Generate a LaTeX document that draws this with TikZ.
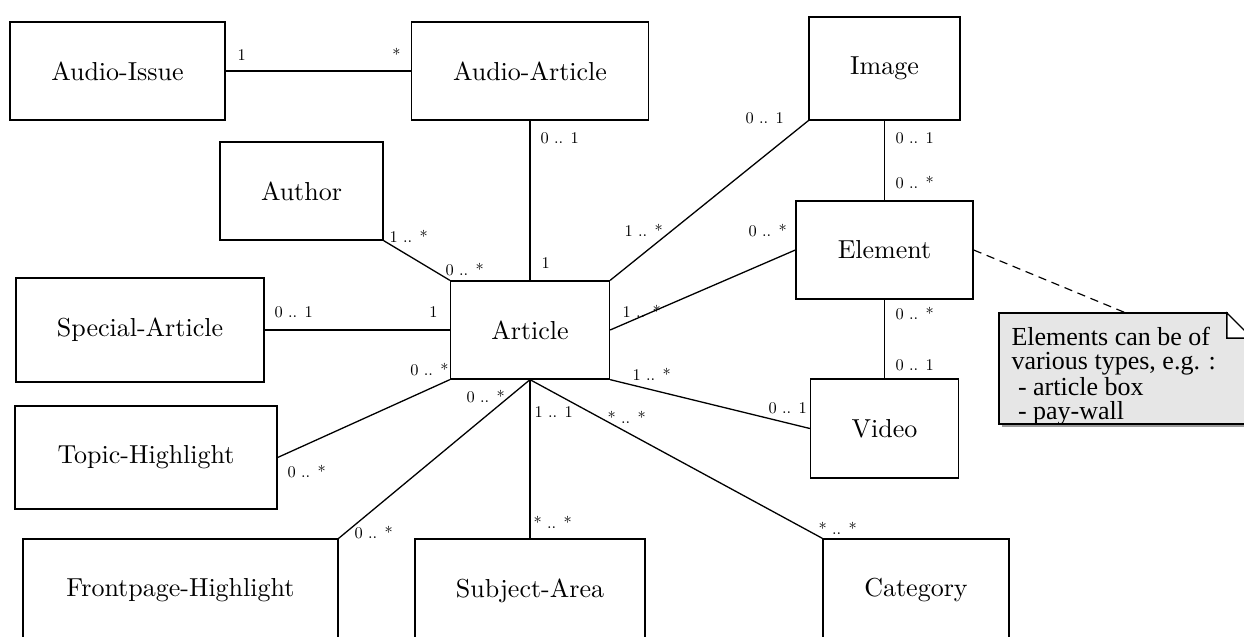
\documentclass[tikz,border=0pt]{standalone}
\usepackage{fontspec}
\usepackage{tikz}
\usetikzlibrary{positioning,calc}
\newfontfamily\notefont{Liberation Serif}
\newfontfamily\multfont[Extension=.otf]{lmroman10-regular}
\definecolor{notegray}{HTML}{E6E6E6}
\definecolor{shadegray}{HTML}{9A9A9A}
\tikzset{
  entity/.style 2 args={draw, line width=0.5pt, inner sep=0pt,
    minimum width=#1*0.3846pt, minimum height=#2*0.3846pt},
  assoc/.style={line width=0.5pt},
  mult/.style={font=\multfont\fontsize{6.3}{7}\selectfont, inner sep=0pt},
  notelink/.style={line width=0.45pt, dash pattern=on 3.2pt off 2.2pt},
  notebox/.style={draw, line width=0.45pt, fill=notegray},
  notetxt/.style={font=\notefont\fontsize{10}{9.04}\selectfont, align=left, inner sep=0pt},
}
\begin{document}
\begin{tikzpicture}[x=0.3846pt,y=-0.3846pt]
  \useasboundingbox (0,0) rectangle (1244,637);
  \clip (0,0) rectangle (1244,637);
  % classes
  \node[entity={215}{98}] (aissue) at (117.5,71) {Audio-Issue};
  \node[entity={237}{98}] (aarticle) at (530,71) {Audio-Article};
  \node[entity={151}{103}] (image) at (884.5,68.5) {Image};
  \node[entity={163}{98}] (author) at (301.5,191) {Author};
  \node[entity={177}{98}] (element) at (884.5,250) {Element};
  \node[entity={159}{98}] (article) at (530,330) {Article};
  \node[entity={248}{104}] (special) at (140,330) {Special-Article};
  \node[entity={262}{103}] (topic) at (146,457.5) {Topic-Highlight};
  \node[entity={148}{99}] (video) at (884.5,428.5) {Video};
  \node[entity={315}{103}] (front) at (180.5,590.5) {Frontpage-Highlight};
  \node[entity={230}{103}] (subject) at (530,590.5) {Subject-Area};
  \node[entity={186}{103}] (category) at (916,590.5) {Category};
  % associations
  \draw[assoc] (aissue.east) -- (aarticle.west);
  \draw[assoc] (aarticle.south) -- (article.north);
  \draw[assoc] (author.south east) -- (article.north west);
  \draw[assoc] (special.east) -- (article.west);
  \draw[assoc] (topic.east) -- (article.south west);
  \draw[assoc] (front.north east) -- (article.south);
  \draw[assoc] (subject.north) -- (article.south);
  \draw[assoc] (category.north west) -- (article.south);
  \draw[assoc] (article.south east) -- (video.west);
  \draw[assoc] (article.east) -- (element.west);
  \draw[assoc] (article.north east) -- (image.south west);
  \draw[assoc] (image.south) -- (element.north);
  \draw[assoc] (element.south) -- (video.north);
  % multiplicities
  \node[mult, anchor=base west] (mAIa) at (237,61) {1};
  \node[mult, anchor=base east] (mAIb) at (401,61) {*};
  \node[mult, anchor=base west] (mAAa) at (540,144) {0 .. 1};
  \node[mult, anchor=base west] (mAAb) at (541,269) {1};
  \node[mult, anchor=base west] (mAUa) at (389,243) {1 .. *};
  \node[mult, anchor=base west] (mAUb) at (445,276) {0 .. *};
  \node[mult, anchor=base west] (mSPa) at (274,318) {0 .. 1};
  \node[mult, anchor=base east] (mSPb) at (438,318) {1};
  \node[mult, anchor=base east] (mTHa) at (449,376) {0 .. *};
  \node[mult, anchor=base west] (mTHb) at (287,478) {0 .. *};
  \node[mult, anchor=base west] (mFHa) at (466,403) {0 .. *};
  \node[mult, anchor=base west] (mFHb) at (354,539) {0 .. *};
  \node[mult, anchor=base west] (mSAa) at (534,418) {1 .. 1};
  \node[mult, anchor=base west] (mSAb) at (533,529) {* .. *};
  \node[mult, anchor=base west] (mCAa) at (607,424) {* .. *};
  \node[mult, anchor=base west] (mCAb) at (818,534) {* .. *};
  \node[mult, anchor=base west] (mVIa) at (632,381) {1 .. *};
  \node[mult, anchor=base west] (mVIb) at (768,414) {0 .. 1};
  \node[mult, anchor=base west] (mELa) at (622,318) {1 .. *};
  \node[mult, anchor=base west] (mELb) at (748,237) {0 .. *};
  \node[mult, anchor=base west] (mIMa) at (624,237) {1 .. *};
  \node[mult, anchor=base west] (mIMb) at (745,124) {0 .. 1};
  \node[mult, anchor=base west] (mIEa) at (895,144) {0 .. 1};
  \node[mult, anchor=base west] (mIEb) at (895,189) {0 .. *};
  \node[mult, anchor=base west] (mEVa) at (895,320) {0 .. *};
  \node[mult, anchor=base west] (mEVb) at (895,371) {0 .. 1};
  % note
  \fill[shadegray] (1002,316) -- (1230,316) -- (1255,341) -- (1255,427) -- (1002,427) -- cycle;
  \path[notebox] (999,313) -- (1227,313) -- (1227,338) -- (1252,338) -- (1252,424) -- (999,424) -- cycle;
  \fill[white] (1227,313) -- (1252,338) -- (1227,338) -- cycle;
  \draw[line width=0.45pt] (1227,313) -- (1252,338) -- (1227,338) -- cycle;
  \node[notetxt, anchor=north west] (notetext) at (1011,327)
    {Elements can be of\\various types, e.g. :\\\ - article box\\\ - pay-wall};
  \coordinate (notetop) at (1126,313);
  \draw[notelink] (element.east) -- (notetop);
\end{tikzpicture}
\end{document}
